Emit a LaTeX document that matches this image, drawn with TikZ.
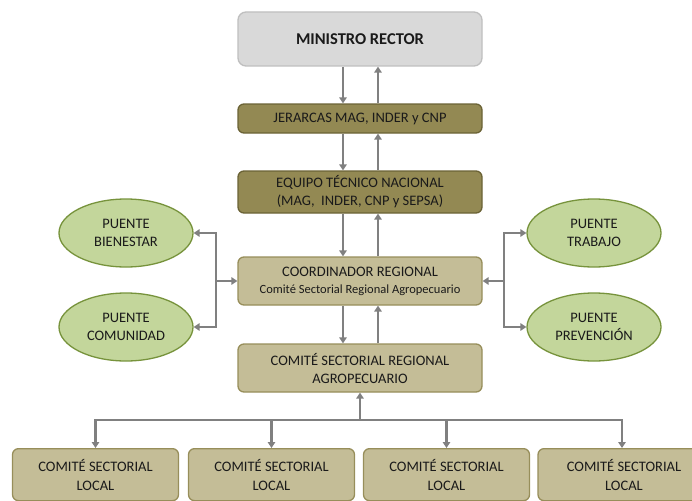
\documentclass[tikz,border=0pt]{standalone}
\usepackage{fontspec}
\setmainfont{Carlito}
\usetikzlibrary{arrows.meta,shapes.geometric}
\definecolor{grayfill}{HTML}{D9D9D9}
\definecolor{grayline}{HTML}{BFBFBF}
\definecolor{olivefill}{HTML}{938953}
\definecolor{oliveline}{HTML}{6B6336}
\definecolor{tanfill}{HTML}{C4BD97}
\definecolor{tanline}{HTML}{978E5A}
\definecolor{greenfill}{HTML}{C3D69B}
\definecolor{greenline}{HTML}{77933C}
\definecolor{arrowgray}{HTML}{808080}
\definecolor{txt}{HTML}{1A1A1A}
\tikzset{
  box/.style={draw, line width=1.3pt, rounded corners=6pt, minimum width=244pt, align=center, text=txt, inner sep=2pt, font=\fontsize{14.5}{18}\selectfont},
  topbox/.style={box, fill=grayfill, draw=grayline, minimum height=54pt, rounded corners=8pt},
  darkbox/.style={box, fill=olivefill, draw=oliveline},
  lightbox/.style={box, fill=tanfill, draw=tanline, minimum height=48pt},
  localbox/.style={box, fill=tanfill, draw=tanline, minimum width=166pt, minimum height=52pt, font=\fontsize{14.5}{19}\selectfont},
  puente/.style={ellipse, draw=greenline, fill=greenfill, line width=1.3pt, minimum width=134pt, minimum height=68pt, align=center, text=txt, font=\fontsize{14.5}{18}\selectfont, inner sep=0pt},
  conn/.style={draw=arrowgray, line width=2.6pt, -{Triangle[length=6pt,width=7.5pt]}}
}
\begin{document}
\begin{tikzpicture}[x=1pt,y=-1pt]
\useasboundingbox (0,0) rectangle (692,500);
\clip (0,0) rectangle (692,500);
\node[topbox, font=\fontsize{16.5}{18}\selectfont\bfseries] (min) at (360,39) {MINISTRO RECTOR};
\node[darkbox, minimum height=29pt] (jer) at (360,118.5) {JERARCAS MAG, INDER y CNP};
\node[darkbox, minimum height=42pt] (eq) at (360,192) {EQUIPO TÉCNICO NACIONAL\\(MAG,\ \ INDER, CNP y SEPSA)};
\node[lightbox] (coord) at (360,281) {COORDINADOR REGIONAL\\[-1pt]{\fontsize{12.5}{15}\selectfont Comité Sectorial Regional Agropecuario}};
\node[lightbox] (csr) at (360,368) {COMITÉ SECTORIAL REGIONAL\\AGROPECUARIO};
\node[puente] (bien) at (126,233) {PUENTE\\BIENESTAR};
\node[puente] (comu) at (126,327) {PUENTE\\COMUNIDAD};
\node[puente] (trab) at (594,233) {PUENTE\\TRABAJO};
\node[puente] (prev) at (594,327) {PUENTE\\PREVENCIÓN};
\node[localbox, anchor=north] (l1) at (95.5,448) {COMITÉ SECTORIAL\\LOCAL};
\node[localbox, anchor=north] (l2) at (271.5,448) {COMITÉ SECTORIAL\\LOCAL};
\node[localbox, anchor=north] (l3) at (446.5,448) {COMITÉ SECTORIAL\\LOCAL};
\node[localbox, anchor=north, minimum width=172pt] (l4) at (624,448) {COMITÉ SECTORIAL\\LOCAL};
% vertical pairs
\foreach \a/\b in {min/jer, jer/eq, eq/coord, coord/csr}{
  \draw[conn] ([xshift=-17pt]\a.south) -- ([xshift=-17pt]\b.north);
  \draw[conn] ([xshift=18pt]\b.north) -- ([xshift=18pt]\a.south);
}
% left bracket
\coordinate (lb) at (216,281);
\draw[conn] (lb) -- (coord.west);
\draw[conn] (lb) |- (bien.east);
\draw[conn] (lb) |- (comu.east);
% right bracket
\coordinate (rb) at (504,281);
\draw[conn] (rb) -- (coord.east);
\draw[conn] (rb) |- (trab.west);
\draw[conn] (rb) |- (prev.west);
% bottom tree
\coordinate (hub) at (360,420);
\draw[conn] (hub) -- (csr.south);
\foreach \n/\x in {l1/95.5,l2/271.5,l3/446.5,l4/622}{
  \draw[conn] (hub) -| (\x,448);
}
\end{tikzpicture}
\end{document}
